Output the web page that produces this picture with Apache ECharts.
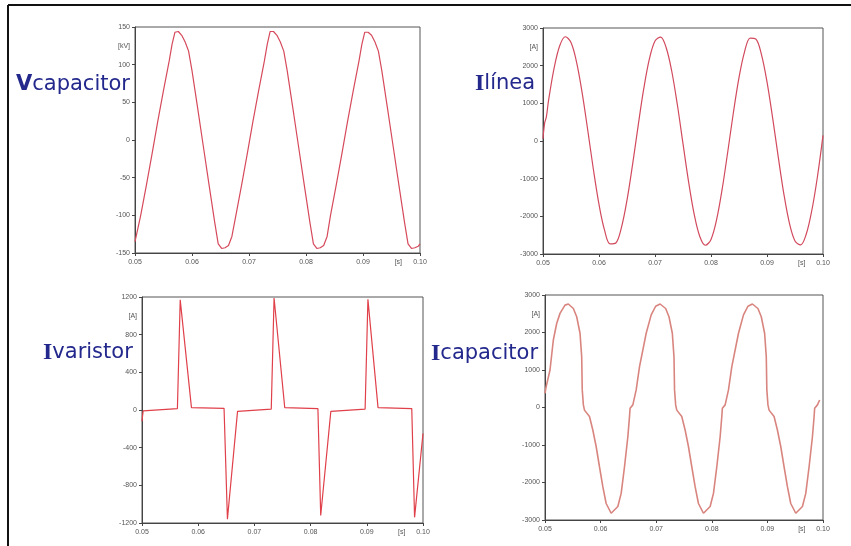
<!DOCTYPE html>
<html>
<head>
<meta charset="utf-8">
<script src="https://cdn.jsdelivr.net/npm/echarts@6/dist/echarts.min.js"></script>
<style>
  html, body { margin: 0; padding: 0; background: #fff; }
  #chart { width: 851px; height: 546px; }
</style>
</head>
<body>
<div id="chart"></div>
<script>
// x axis shared by all four plots (seconds)
const xTicks = [0.05, 0.06, 0.07, 0.08, 0.09, 0.10];
const xUnitAt = 0.0962;

// Vcapacitor [kV]
const vcapT = [0.0500,0.0510,0.0520,0.0530,0.0540,0.0550,0.0560,0.0565,0.0570,0.0576,0.0582,0.0588,0.0594,0.0600,0.0610,0.0620,0.0630,0.0640,0.0646,0.0652,0.0658,0.0664,
  0.0670,0.0677,0.0687,0.0697,0.0707,0.0717,0.0727,0.0732,0.0737,0.0743,0.0749,0.0755,0.0761,0.0767,0.0777,0.0787,0.0797,0.0807,0.0813,0.0819,0.0825,0.0831,
  0.0837,0.0843,0.0853,0.0863,0.0873,0.0883,0.0893,0.0898,0.0903,0.0909,0.0915,0.0921,0.0927,0.0933,0.0943,0.0953,0.0963,0.0973,0.0979,0.0985,0.0991,0.0997,0.1000];
const vcapV = [-135,-100,-60,-18,25,66,105,127,143,144,139,130,118,92,42,-9,-60,-110,-138,-144,-143,-140,
  -128,-100,-60,-18,25,66,105,127,144,144,139,130,118,92,42,-9,-60,-110,-138,-144,-143,-140,
  -128,-100,-60,-18,25,66,105,127,143,143,139,130,118,92,42,-9,-60,-110,-138,-144,-143,-141,-138];

// Ilinea [A]
const ilineT = [0.050,0.0503,0.0506,0.051,0.052,0.053,0.054,0.055,0.056,0.057,0.058,0.059,0.060,
  0.061,0.062,0.063,0.064,0.065,0.066,0.067,0.068,0.069,0.070,0.071,0.072,0.073,0.074,0.075,
  0.076,0.077,0.078,0.079,0.080,0.081,0.082,0.083,0.084,0.085,0.086,0.087,0.088,0.089,0.090,
  0.091,0.092,0.093,0.094,0.095,0.096,0.097,0.098,0.099,0.100];
const ilineV = [60,480,640,1084,1947,2535,2768,2612,2089,1273,278,-756,-1684,
  -2375,-2733,-2707,-2300,-1571,-621,416,1395,2178,2655,2759,2476,1845,955,-70,
  -1084,-1947,-2535,-2768,-2612,-2089,-1273,-278,756,1684,2375,2733,2707,2300,1571,
  621,-416,-1395,-2178,-2655,-2759,-2476,-1845,-955,150];

// Ivaristor [A]
const ivarT = [0.0500,0.0502,0.0505,0.0563,0.0568,0.0588,0.0646,0.0652,0.0670,0.0730,0.0735,0.0754,
  0.0813,0.0818,0.0836,0.0897,0.0902,0.0920,0.0980,0.0985,0.1000];
const ivarV = [-120,-10,10,15,1170,25,18,-1160,-15,10,1190,25,
  15,-1120,-15,10,1175,25,15,-1140,-250];

// Icapacitor [A]
const icapT = [0.0500,0.0502,0.0509,0.0515,0.0521,0.0527,0.0536,0.0542,0.0551,0.0557,0.0563,0.0566,0.0567,0.0569,0.0571,0.0580,0.0586,0.0592,0.0598,0.0604,0.0610,0.0619,0.0622,0.0631,0.0637,0.0643,0.0649,0.0652,0.0653,0.0658,0.0664,0.0670,0.0682,0.0691,0.0699,0.0707,
  0.0717,0.0723,0.0729,0.0732,0.0733,0.0735,0.0737,0.0746,0.0752,0.0758,0.0764,0.0770,0.0776,0.0785,0.0788,0.0797,0.0803,0.0809,0.0815,0.0818,0.0819,0.0824,0.0830,0.0836,0.0848,0.0857,0.0865,0.0873,
  0.0883,0.0889,0.0895,0.0898,0.0899,0.0901,0.0903,0.0912,0.0918,0.0924,0.0930,0.0936,0.0942,0.0951,0.0954,0.0963,0.0969,0.0975,0.0981,0.0984,0.0985,0.0990,0.0994];
const icapV = [380,550,1000,1800,2240,2510,2730,2760,2640,2420,1980,1350,470,70,-70,-240,-600,-1040,-1580,-2110,-2560,-2820,-2840,-2640,-2290,-1580,-780,-240,-20,70,470,1090,1980,2470,2700,2760,
  2640,2420,1980,1350,470,70,-70,-240,-600,-1040,-1580,-2110,-2560,-2820,-2840,-2640,-2290,-1580,-780,-240,-20,70,470,1090,1980,2470,2700,2760,
  2640,2420,1980,1350,470,70,-70,-240,-600,-1040,-1580,-2110,-2560,-2820,-2840,-2640,-2290,-1580,-780,-240,-20,70,200];

const navy = '#23288c';
const tickFont = { fontFamily: 'Liberation Sans', fontSize: 7, color: '#555' };

const panels = [
  { grid: { left: 135, top: 27, width: 285, height: 226 }, min: -150, max: 150, step: 50,
    unit: '[kV]', unitAt: 125, t: vcapT, v: vcapV, color: '#d64a5c' },
  { grid: { left: 543, top: 28, width: 280, height: 226 }, min: -3000, max: 3000, step: 1000,
    unit: '[A]', unitAt: 2500, t: ilineT, v: ilineV, color: '#d24a5e', smooth: 0.35 },
  { grid: { left: 142, top: 297, width: 281, height: 226 }, min: -1200, max: 1200, step: 400,
    unit: '[A]', unitAt: 1000, t: ivarT, v: ivarV, color: '#e0404a' },
  { grid: { left: 545, top: 295, width: 278, height: 225 }, min: -3000, max: 3000, step: 1000,
    unit: '[A]', unitAt: 2500, t: icapT, v: icapV, color: '#d9857f', width: 1.6 }
];

function yValues(p) {
  const out = [];
  for (let y = p.min; y <= p.max; y += p.step) out.push(y);
  return out;
}

const chart = echarts.init(document.getElementById('chart'), null, { renderer: 'canvas' });

const option = {
  backgroundColor: '#fff',
  animation: false,
  title: [
    { text: '{b|V}{n|capacitor}', left: 16, top: 73 },
    { text: '{s|I}{n|línea}', left: 475, top: 72 },
    { text: '{s|I}{n|varistor}', left: 43, top: 341 },
    { text: '{s|I}{n|capacitor}', left: 431, top: 342 }
  ].map(t => Object.assign(t, {
    padding: 0,
    textStyle: {
      fontWeight: 'normal',
      rich: {
        b: { fontFamily: 'DejaVu Sans', fontWeight: 'bold', fontSize: 21, color: navy, lineHeight: 24 },
        s: { fontFamily: 'Liberation Serif', fontWeight: 'bold', fontSize: 24, color: navy, lineHeight: 24 },
        n: { fontFamily: 'DejaVu Sans', fontWeight: 'normal', fontSize: 21, color: navy, lineHeight: 24 }
      }
    }
  })),
  grid: panels.map(p => Object.assign({
    show: true, borderColor: '#555', borderWidth: 1, backgroundColor: 'transparent',
    outerBoundsMode: 'none', containLabel: false
  }, p.grid)),
  xAxis: panels.map((p, i) => ({
    type: 'value', gridIndex: i, min: 0.05, max: 0.10, interval: 0.01,
    axisLine: { onZero: false, lineStyle: { color: '#444', width: 1 } },
    axisTick: { show: true, length: 3, lineStyle: { color: '#444' }, customValues: xTicks },
    axisLabel: Object.assign({
      margin: 6, customValues: xTicks.concat([xUnitAt]),
      formatter: v => (Math.abs(v - xUnitAt) < 1e-6 ? '[s]' : v.toFixed(2))
    }, tickFont),
    splitLine: { show: false }
  })),
  yAxis: panels.map((p, i) => ({
    type: 'value', gridIndex: i, min: p.min, max: p.max, interval: p.step,
    axisLine: { show: true, onZero: false, lineStyle: { color: '#444', width: 1 } },
    axisTick: { show: true, length: 3, lineStyle: { color: '#444' }, customValues: yValues(p) },
    axisLabel: Object.assign({
      margin: 5, customValues: yValues(p).concat([p.unitAt]),
      formatter: v => (v === p.unitAt ? p.unit : String(v))
    }, tickFont),
    splitLine: { show: false }
  })),
  series: panels.map((p, i) => ({
    type: 'line', xAxisIndex: i, yAxisIndex: i,
    data: p.t.map((t, j) => [t, p.v[j]]),
    showSymbol: false, smooth: p.smooth || false,
    lineStyle: { color: p.color, width: p.width || 1.2 }
  })),
  graphic: [
    // outer frame of the scanned figure
    { type: 'line', shape: { x1: 8, y1: 5, x2: 851, y2: 5 }, style: { stroke: '#111', lineWidth: 2 } },
    { type: 'line', shape: { x1: 8, y1: 5, x2: 8, y2: 546 }, style: { stroke: '#111', lineWidth: 2 } }
  ]
};

chart.setOption(option);
</script>
</body>
</html>
